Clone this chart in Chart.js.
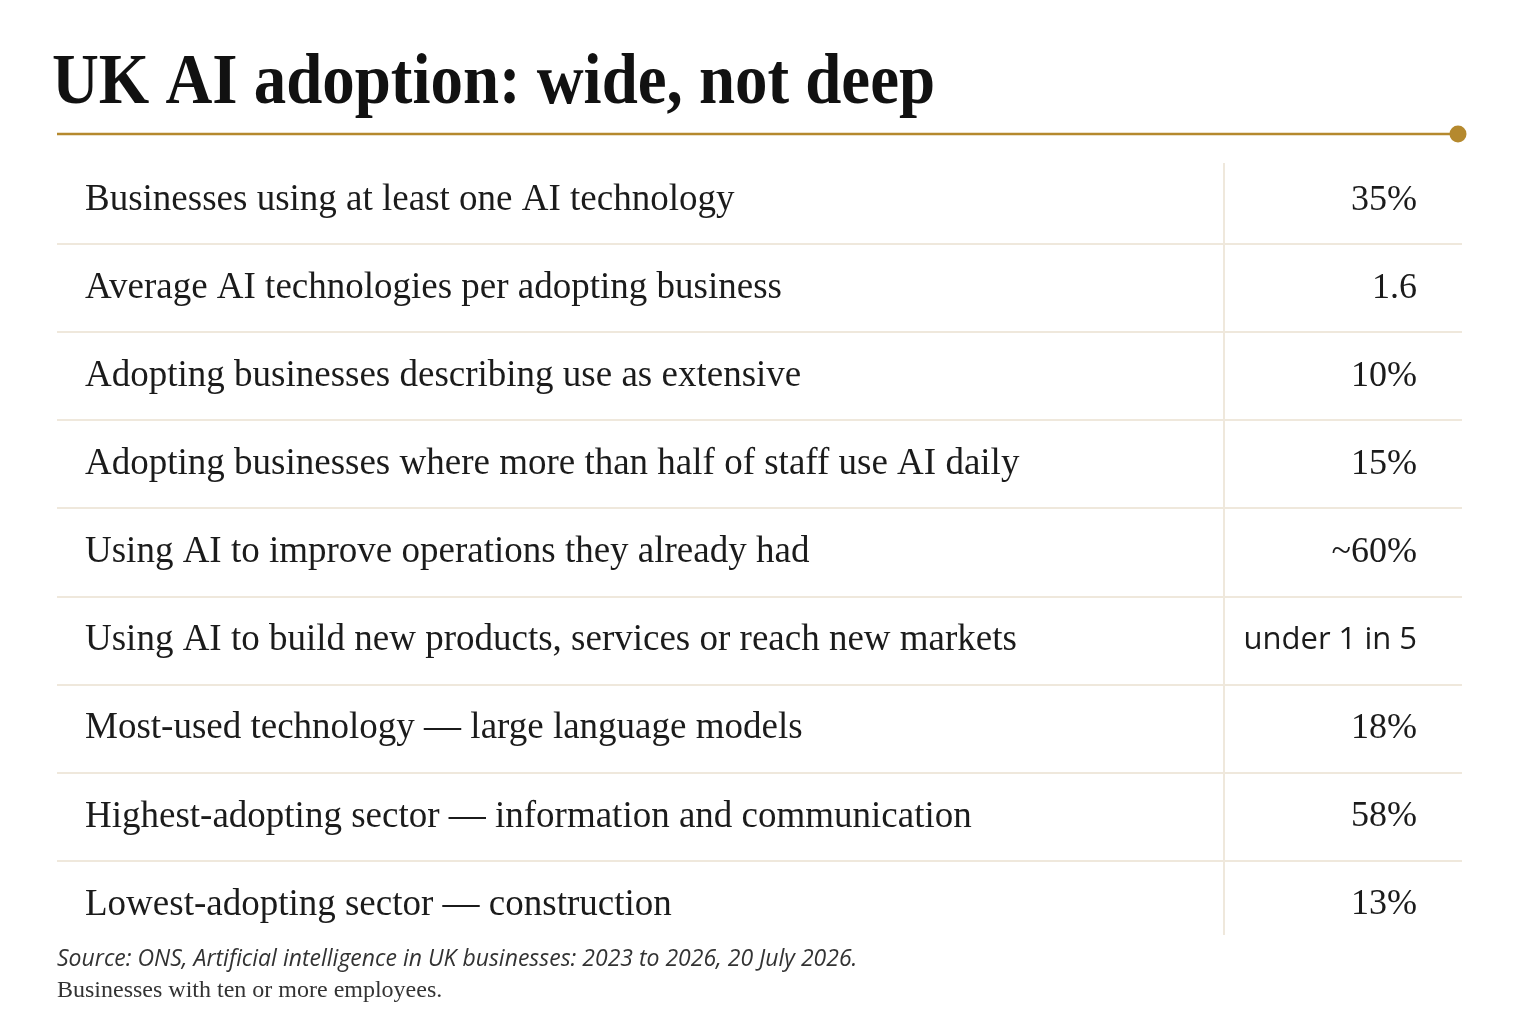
<!DOCTYPE html>
<html>
<head>
<meta charset="utf-8">
<script src="https://cdn.jsdelivr.net/npm/chart.js@4.4.1/dist/chart.umd.min.js"></script>
<style>
  html, body { margin: 0; padding: 0; background: #ffffff; }
  #wrap { width: 1536px; height: 1024px; position: relative; }
</style>
</head>
<body>
<div id="wrap"><canvas id="adoptionTable"></canvas></div>
<script>
// Table rows, top to bottom.
var metrics = [
    'Businesses using at least one AI technology',
    'Average AI technologies per adopting business',
    'Adopting businesses describing use as extensive',
    'Adopting businesses where more than half of staff use AI daily',
    'Using AI to improve operations they already had',
    'Using AI to build new products, services or reach new markets',
    'Most-used technology \u2014 large language models',
    'Highest-adopting sector \u2014 information and communication',
    'Lowest-adopting sector \u2014 construction'
];
var values = ['35%', '1.6', '10%', '15%', '~60%', 'under 1 in 5', '18%', '58%', '13%'];

var titleText = 'UK AI adoption: wide, not deep';
var sourceNote = 'Source: ONS, Artificial intelligence in UK businesses: 2023 to 2026, 20 July 2026.';
var baseNote = 'Businesses with ten or more employees.';

var gold = '#b5892e';
var ink = '#1b1b1b';
var rule = '#efe8dc';

// Title, gold rule, column divider and notes.
var decorations = {
    id: 'decorations',
    afterDraw: function (chart) {
        var ctx = chart.ctx;
        var area = chart.chartArea;
        var x = chart.scales.x;

        ctx.save();
        // title, squeezed a little to the width of the original face
        ctx.fillStyle = '#111111';
        ctx.font = 'bold 72px "Liberation Serif"';
        var w = ctx.measureText(titleText).width;
        ctx.translate(52, 103);
        ctx.scale(883 / w, 1);
        ctx.textBaseline = 'alphabetic';
        ctx.fillText(titleText, 0, 0);
        ctx.restore();

        ctx.save();
        ctx.strokeStyle = gold;
        ctx.lineWidth = 2.5;
        ctx.beginPath();
        ctx.moveTo(area.left, 134);
        ctx.lineTo(1458, 134);
        ctx.stroke();
        ctx.fillStyle = gold;
        ctx.beginPath();
        ctx.arc(1458, 134, 8.5, 0, Math.PI * 2);
        ctx.fill();

        // divider between the label and value columns
        var divX = x.getPixelForValue(0.8306);
        ctx.strokeStyle = rule;
        ctx.lineWidth = 2;
        ctx.beginPath();
        ctx.moveTo(divX, area.top + 7);
        ctx.lineTo(divX, area.bottom - 14);
        ctx.stroke();

        ctx.fillStyle = '#333333';
        ctx.textBaseline = 'alphabetic';
        ctx.font = 'italic 23px "Open Sans"';
        ctx.fillText(sourceNote, 57, 966);
        ctx.font = '24px "Liberation Serif"';
        ctx.fillText(baseNote, 57, 997);
        ctx.restore();
    }
};

var ctx = document.getElementById('adoptionTable').getContext('2d');
var chart = new Chart(ctx, {
    type: 'bar',
    data: {
        labels: metrics,
        datasets: []
    },
    options: {
        indexAxis: 'y',
        responsive: true,
        maintainAspectRatio: false,
        animation: false,
        events: [],
        layout: {
            padding: { top: 156, bottom: 75, left: 57, right: 74 }
        },
        plugins: {
            legend: { display: false },
            title: { display: false },
            tooltip: { enabled: false }
        },
        scales: {
            x: {
                type: 'linear',
                min: 0,
                max: 1,
                display: false
            },
            y: {
                type: 'category',
                position: 'left',
                offset: true,
                border: { display: false },
                grid: {
                    offset: true,
                    drawTicks: false,
                    lineWidth: 2,
                    color: function (c) {
                        // no rule above the first row or under the last
                        if (c.index === undefined || c.index === 0 || c.index >= metrics.length) {
                            return 'rgba(0,0,0,0)';
                        }
                        return rule;
                    }
                },
                ticks: {
                    mirror: true,
                    padding: 28,
                    autoSkip: false,
                    color: ink,
                    font: { family: '"Liberation Serif"', size: 37 }
                },
                afterFit: function (s) { s.width = 0; }
            },
            y2: {
                type: 'category',
                labels: values,
                position: 'right',
                offset: true,
                border: { display: false },
                grid: { display: false },
                ticks: {
                    mirror: true,
                    padding: -45,
                    autoSkip: false,
                    color: ink,
                    font: function (c) {
                        if (values[c.index] === 'under 1 in 5') {
                            return { family: '"Open Sans"', size: 31 };
                        }
                        return { family: '"Liberation Serif"', size: 36 };
                    }
                },
                afterFit: function (s) { s.width = 0; }
            }
        }
    },
    plugins: [decorations]
});
</script>
</body>
</html>
